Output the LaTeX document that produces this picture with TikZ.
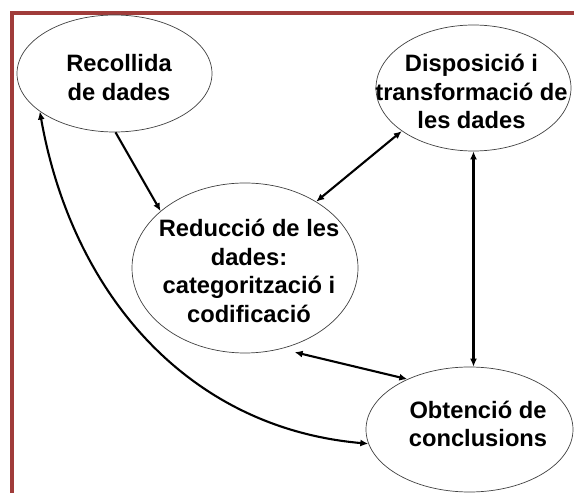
\documentclass[tikz,border=0pt]{standalone}
\usepackage{fontspec}
\setmainfont{Liberation Sans}
\usetikzlibrary{shapes.geometric,arrows.meta}
\definecolor{framered}{RGB}{160,60,58}
\tikzset{
  bubble/.style={ellipse,draw=black!75,line width=0.7pt,inner sep=0pt},
  bubbletext/.style={align=center,inner sep=0pt,font=\fontsize{23.7}{28.5}\selectfont\bfseries},
  link/.style={line width=2.1pt,>={Latex[length=8pt,width=7pt]}}
}
\begin{document}
\begin{tikzpicture}[x=1pt,y=1pt]
    \useasboundingbox (0,0) rectangle (574,493);
    \draw [framered,line width=4pt] (12,0)--(12,480)--(574,480);

    \node [bubble,minimum width=195pt,minimum height=117pt] (recollida) at (114.5,419.5) {};
    \node [bubble,minimum width=195pt,minimum height=126pt] (disposicio) at (473.5,405) {};
    \node [bubble,minimum width=226pt,minimum height=170pt] (reduccio) at (245,225) {};
    \node [bubble,minimum width=207pt,minimum height=125pt] (obtencio) at (469.5,63.5) {};

    \node [bubbletext] (trecollida) at (119,415.5) {Recollida\\de dades};
    \node [bubbletext] (tdisposicio) at (471.5,401.5) {Disposició i\\transformació de\\les dades};
    \node [bubbletext] (treduccio) at (249,222) {Reducció de les\\dades:\\categorització i\\codificació};
    \node [bubbletext] (tobtencio) at (478,69) {Obtenció de\\conclusions};

    \draw [link,->] (recollida.-89)--(reduccio.146);
    \draw [link,<->] (disposicio.211)--(reduccio.43);
    \draw [link,<->] (disposicio.south)--(disposicio.south |- obtencio.north);
    \draw [link,<->,shorten <=14pt] (reduccio.-66)--(obtencio.141);
    \draw [link,<->] (obtencio.188) to[out=175,in=-80] (recollida.207);
\end{tikzpicture}
\end{document}
